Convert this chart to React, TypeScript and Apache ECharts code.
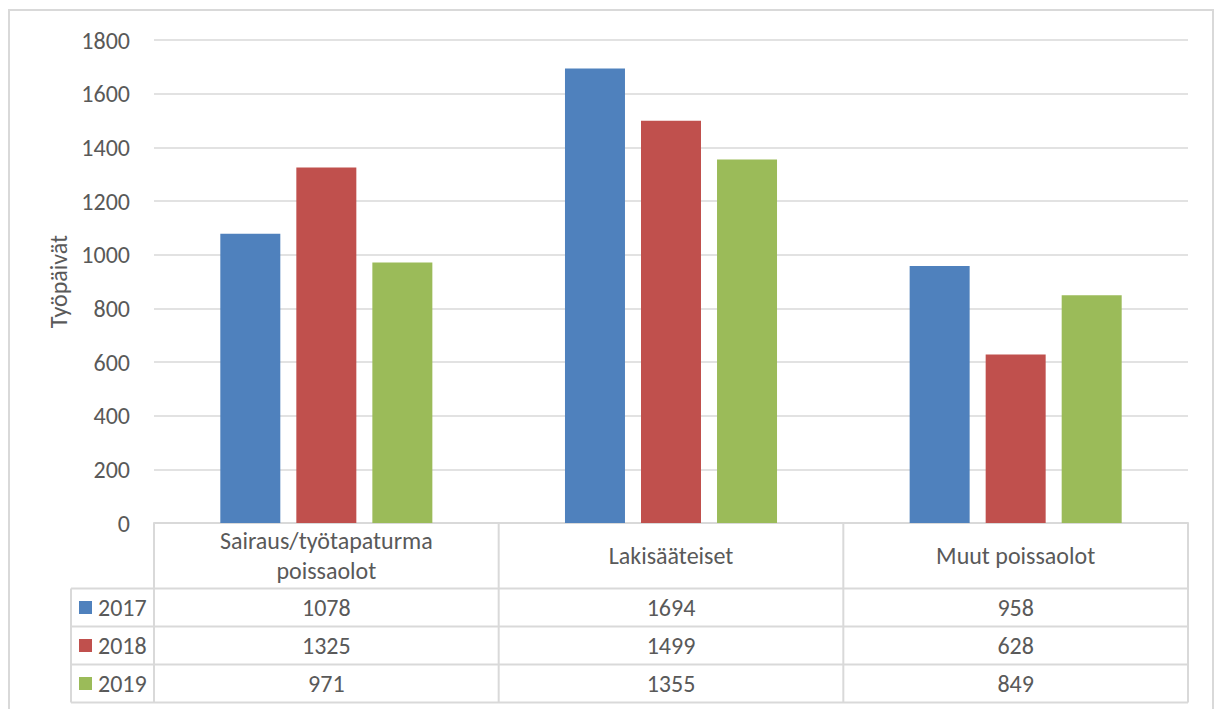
import React, { useEffect, useRef } from "react";
import * as echarts from "echarts";

// Absence categories (header row of the data table)
const categories = ["Sairaus/työtapaturma\npoissaolot", "Lakisääteiset", "Muut poissaolot"];
// Years shown as series
const years = ["2017", "2018", "2019"];
// Working days per category for each year
const values2017 = [1078, 1694, 958];
const values2018 = [1325, 1499, 628];
const values2019 = [971, 1355, 849];
const seriesValues = [values2017, values2018, values2019];
const colors = ["#4f81bd", "#c0504d", "#9bbb59"];

const yAxisTitle = "Työpäivät";
const yMax = 1800;
const yStep = 200;

const FONT = "Calibri, Carlito, Lato, sans-serif";
const FS = 24;
const TEXT = "#595959";
const LINE = "#d9d9d9";

export default function App() {
  const ref = useRef<HTMLDivElement>(null);

  useEffect(() => {
    if (!ref.current) return;
    const chart = echarts.init(ref.current, undefined, { renderer: "svg" });

    const gridLeft = 154;
    const gridRight = 26;
    const gridTop = 40;
    const gridBottom = 186;

    chart.setOption({
      animation: false,
      backgroundColor: "#ffffff",
      textStyle: { fontFamily: FONT },
      grid: { left: gridLeft, right: gridRight, top: gridTop, bottom: gridBottom, containLabel: false },
      xAxis: {
        type: "category",
        data: categories,
        axisLine: { show: true, lineStyle: { color: LINE, width: 2 } },
        axisTick: { show: false },
        axisLabel: { show: false },
      },
      yAxis: {
        type: "value",
        min: 0,
        max: yMax,
        interval: yStep,
        name: yAxisTitle,
        nameLocation: "middle",
        nameGap: 82,
        nameRotate: 90,
        nameTextStyle: { color: TEXT, fontSize: FS, fontFamily: FONT },
        axisLine: { show: false },
        axisTick: { show: false },
        axisLabel: {
          color: TEXT,
          fontSize: FS,
          fontFamily: FONT,
          margin: 24,
          formatter: (v: number) => String(v),
        },
        splitLine: { lineStyle: { color: LINE, width: 1.5 } },
      },
      series: years.map((y, i) => ({
        name: y,
        type: "bar",
        data: seriesValues[i],
        barWidth: 60,
        barGap: "26.7%",
        itemStyle: { color: colors[i] },
      })),
    });

    // Data table under the plot, aligned to the category columns
    const plotW = 1214 - gridLeft - gridRight;
    const colW = plotW / categories.length;
    const axisY = 709 - gridBottom;
    const headerBottom = axisY + 65.5;
    const rowH = 38;
    const tableLeft = 71;
    const tableRight = gridLeft + plotW;
    const tableBottom = headerBottom + rowH * years.length;

    const g: any[] = [];
    const line = (x1: number, y1: number, x2: number, y2: number) => ({
      type: "line",
      shape: { x1, y1, x2, y2 },
      style: { stroke: LINE, lineWidth: 2 },
      silent: true,
    });

    // outer frame
    g.push({
      type: "rect",
      shape: { x: 9, y: 10, width: 1204, height: 740 },
      style: { fill: "none", stroke: LINE, lineWidth: 2 },
      silent: true,
    });

    // vertical dividers of the category columns
    for (let c = 0; c <= categories.length; c++) {
      const x = gridLeft + colW * c;
      g.push(line(x, axisY, x, tableBottom));
    }
    g.push(line(tableLeft, headerBottom, tableLeft, tableBottom));
    for (let r = 0; r <= years.length; r++) {
      const y = headerBottom + rowH * r;
      g.push(line(tableLeft, y, tableRight, y));
    }

    // header labels
    categories.forEach((cat, c) => {
      g.push({
        type: "text",
        x: gridLeft + colW * (c + 0.5),
        y: (axisY + headerBottom) / 2,
        style: {
          text: cat,
          fill: TEXT,
          font: `${FS}px ${FONT}`,
          align: "center",
          verticalAlign: "middle",
          lineHeight: 30,
        },
        silent: true,
      });
    });

    // legend keys and values
    years.forEach((yr, r) => {
      const cy = headerBottom + rowH * (r + 0.5);
      g.push({
        type: "rect",
        shape: { x: 79, y: cy - 6.5, width: 13, height: 13 },
        style: { fill: colors[r] },
        silent: true,
      });
      g.push({
        type: "text",
        x: 98,
        y: cy,
        style: { text: yr, fill: TEXT, font: `${FS}px ${FONT}`, align: "left", verticalAlign: "middle" },
        silent: true,
      });
      seriesValues[r].forEach((v, c) => {
        g.push({
          type: "text",
          x: gridLeft + colW * (c + 0.5),
          y: cy,
          style: { text: String(v), fill: TEXT, font: `${FS}px ${FONT}`, align: "center", verticalAlign: "middle" },
          silent: true,
        });
      });
    });

    chart.setOption({ graphic: { elements: g } });

    return () => chart.dispose();
  }, []);

  return (
    <div
      ref={ref}
      style={{ position: "fixed", left: 0, top: 0, width: 1214, height: 709 }}
    />
  );
}
